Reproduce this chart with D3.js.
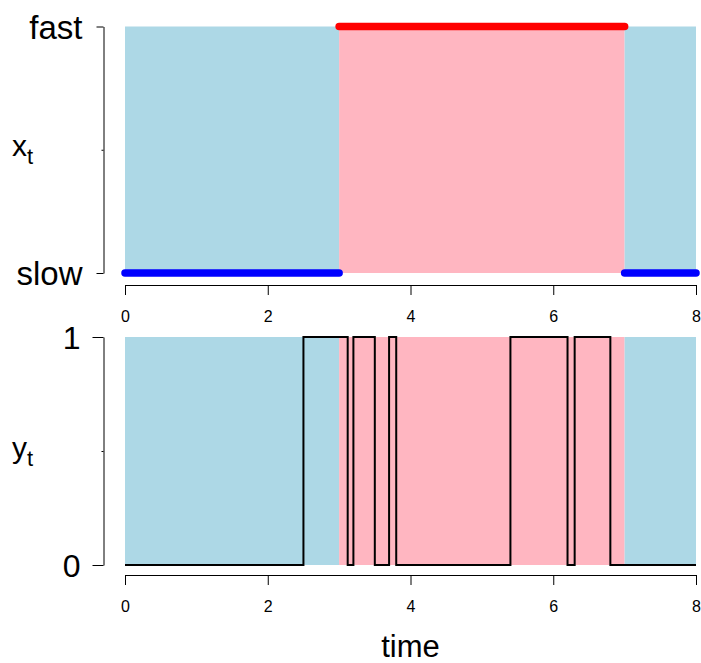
<!DOCTYPE html>
<html>
<head>
<meta charset="utf-8">
<script src="https://cdn.jsdelivr.net/npm/d3@7"></script>
<style>
  body { margin: 0; background: #fff; }
  svg { display: block; font-family: "Liberation Sans", Arial, sans-serif; }
</style>
</head>
<body>
<svg id="chart" width="701" height="663"></svg>
<script>
// ---- data ----
const regimeStart = [0, 3, 7];
const regimeEnd   = [3, 7, 8];
const regimeState = ["slow", "fast", "slow"];
const stateLabels = ["slow", "fast"];
const stepTimes  = [0, 2.5, 3.12, 3.2, 3.5, 3.7, 3.8, 5.4, 6.2, 6.3, 6.8, 8];
const stepValues = [0, 1,   0,    1,   0,   1,   0,   1,   0,   1,   0,   0];
const xTicks = [0, 2, 4, 6, 8];
const yLabels = ["0", "1"];

const svg = d3.select("#chart");
const x = d3.scaleLinear().domain([0, 8]).range([125, 696]);
const yTop = d3.scaleLinear().domain([0, 1]).range([273, 26.5]);
const yBot = d3.scaleLinear().domain([0, 1]).range([565, 337]);

const regimes = regimeStart.map((s, i) => ({ s, e: regimeEnd[i], st: regimeState[i] }));
const fillCol = st => st === "fast" ? "#FFB6C1" : "#ADD8E6";
const lineCol = st => st === "fast" ? "#FF0000" : "#0000FF";

function panel(y, axisY) {
  const g = svg.append("g");
  g.selectAll("rect.bg").data(regimes).enter().append("rect")
    .attr("x", d => x(d.s)).attr("width", d => x(d.e) - x(d.s))
    .attr("y", y(1)).attr("height", y(0) - y(1))
    .attr("fill", d => fillCol(d.st));
  const ax = svg.append("g").attr("transform", `translate(0,${axisY})`)
    .call(d3.axisBottom(x).tickValues(xTicks).tickSize(10).tickPadding(16).tickFormat(d3.format("d")));
  ax.attr("font-family", null);
  ax.select(".domain").attr("stroke", "#000").attr("stroke-width", 1);
  ax.selectAll(".tick line").attr("stroke", "#000");
  ax.selectAll("text").attr("font-size", 16).attr("fill", "#000");
  return g;
}

function yAxis(y, labels, fontSize, tick, pad) {
  const ay = svg.append("g").attr("transform", "translate(103.5,0)")
    .call(d3.axisLeft(y).tickValues([0, 0.5, 1]).tickSize(tick).tickSizeOuter(0).tickPadding(pad)
      .tickFormat(d => d === 0.5 ? "" : labels[d]));
  ay.attr("font-family", null);
  ay.select(".domain").attr("stroke", "#000");
  ay.selectAll(".tick line").attr("stroke", "#000").attr("x2", d => d === 0.5 ? -2 : -tick);
  ay.selectAll("text").attr("font-size", fontSize).attr("fill", "#000").attr("dy", "0.35em");
}

// top panel
const gTop = panel(yTop, 285);
gTop.selectAll("line.state").data(regimes).enter().append("line")
  .attr("x1", d => x(d.s)).attr("x2", d => x(d.e))
  .attr("y1", d => yTop(stateLabels.indexOf(d.st))).attr("y2", d => yTop(stateLabels.indexOf(d.st)))
  .attr("stroke", d => lineCol(d.st)).attr("stroke-width", 7.5).attr("stroke-linecap", "round");
yAxis(yTop, stateLabels, 33, 7, 14);

const lx = svg.append("text").attr("x", 12).attr("y", 156).attr("font-size", 30).attr("fill", "#000");
lx.append("tspan").text("x");
lx.append("tspan").attr("font-size", 22).attr("dy", 8).text("t");

// bottom panel
const gBot = panel(yBot, 575);
const pts = stepTimes.map((t, i) => [t, stepValues[i]]);
gBot.append("path").datum(pts)
  .attr("d", d3.line().x(d => x(d[0])).y(d => yBot(d[1])).curve(d3.curveStepAfter))
  .attr("fill", "none").attr("stroke", "#000").attr("stroke-width", 2);
yAxis(yBot, yLabels, 32, 11, 12);

const ly = svg.append("text").attr("x", 12).attr("y", 458).attr("font-size", 30).attr("fill", "#000");
ly.append("tspan").text("y");
ly.append("tspan").attr("font-size", 22).attr("dy", 8).text("t");

svg.append("text").attr("x", x(4)).attr("y", 657).attr("text-anchor", "middle")
  .attr("font-size", 31).attr("fill", "#000").text("time");
</script>
</body>
</html>
